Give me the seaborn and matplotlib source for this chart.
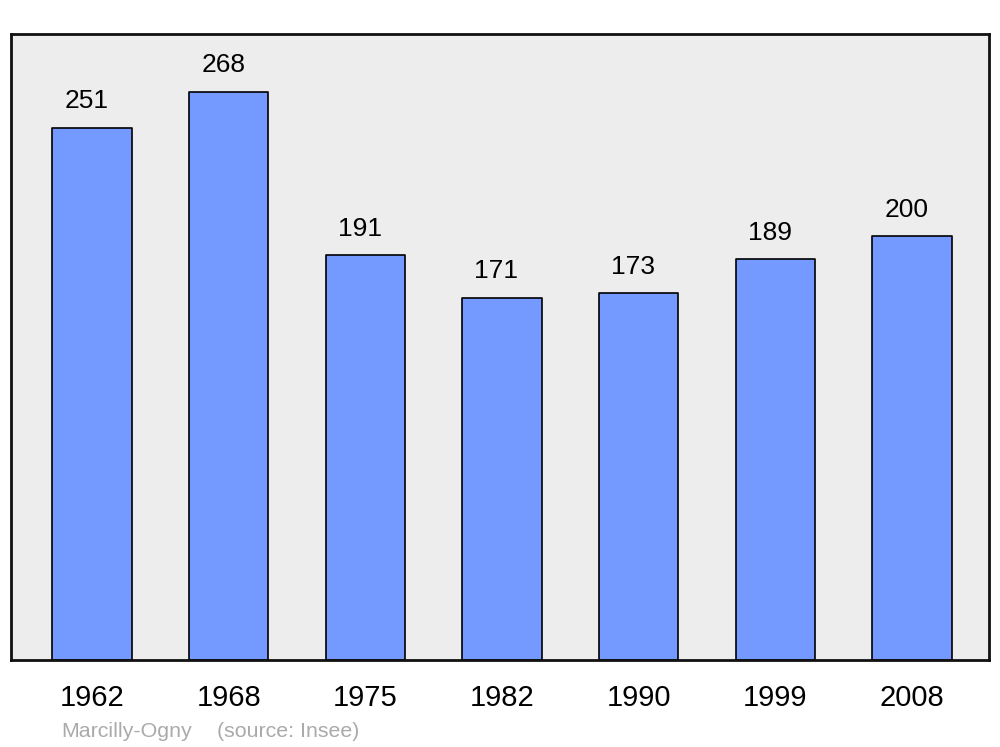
import matplotlib
matplotlib.use("Agg")
import matplotlib.pyplot as plt
import seaborn as sns
import pandas as pd

years = ["1962", "1968", "1975", "1982", "1990", "1999", "2008"]
population = [251, 268, 191, 171, 173, 189, 200]
place = "Marcilly-Ogny"
source = "(source: Insee)"

sns.set_style("white")
plt.rcParams['font.family'] = ['Liberation Sans', 'DejaVu Sans']

df = pd.DataFrame({"year": years, "pop": population})

fig = plt.figure(figsize=(10, 7.47), dpi=100)
ax = fig.add_axes([0.011, 1 - 660 / 747, 0.978, (660 - 34) / 747])
ax.set_facecolor("#ededed")

sns.barplot(data=df, x="year", y="pop", ax=ax, color="#7499ff", saturation=1,
            width=0.58, edgecolor="black", linewidth=1.2)
for p in ax.patches:
    p.set_joinstyle("round")

for i, v in enumerate(population):
    ax.annotate(str(v), xy=(i, v), xytext=(-4, 14), textcoords="offset points",
                ha="center", va="baseline", fontsize=19, color="black")

ax.set_xlim(-0.593, 6.564)
ax.set_ylim(0, 295.3)
ax.set_xlabel("")
ax.set_ylabel("")
ax.set_yticks([])
ax.tick_params(axis="x", length=0, pad=17, labelsize=21, colors="black")
for s in ax.spines.values():
    s.set_visible(True)
    s.set_linewidth(2)
    s.set_color("#111111")

fig.text(0.061, 1 - 737 / 747, place, fontsize=15.4, color="#aaaaaa", va="baseline", ha="left")
fig.text(0.217, 1 - 737 / 747, source, fontsize=15.4, color="#aaaaaa", va="baseline", ha="left")

fig.savefig("out.png", dpi=100)
